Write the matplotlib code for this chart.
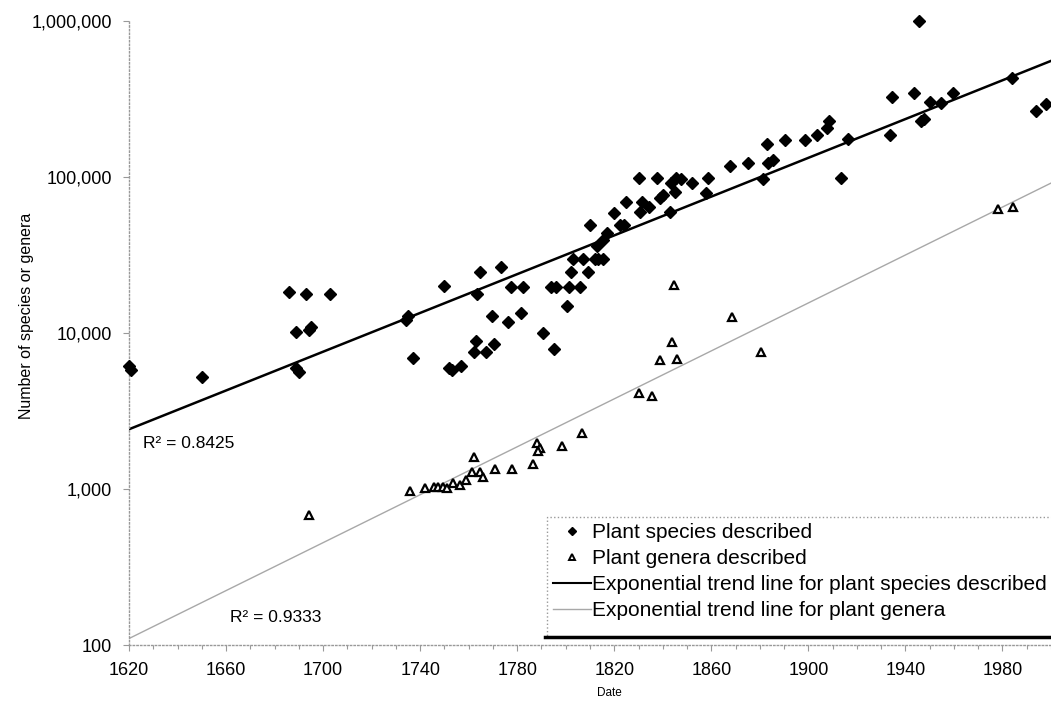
import matplotlib
matplotlib.use('Agg')
import matplotlib.pyplot as plt
from matplotlib.ticker import FixedLocator, MultipleLocator, NullLocator
from matplotlib.lines import Line2D
from matplotlib.patches import Rectangle

plt.rcParams['font.family'] = ['Liberation Sans', 'DejaVu Sans']

# ---- data ----
species_years = [1620, 1621, 1650, 1686, 1693, 1703, 1689, 1694, 1695, 1689, 1690,
                 1734, 1735, 1737, 1750, 1752, 1753, 1757, 1762, 1763, 1767, 1770.5,
                 1763.5, 1764.5, 1769.5, 1773.5, 1776, 1777.5, 1781.5, 1782.5, 1790.5,
                 1795, 1794, 1796, 1801.5, 1806, 1800.5, 1802, 1809, 1803, 1807, 1812,
                 1813.5, 1815.5, 1813, 1815.5, 1817, 1810, 1820, 1822.5, 1824, 1825,
                 1830, 1830.5, 1831.5, 1834.5, 1837.5, 1839, 1840, 1843, 1843.5, 1845.5,
                 1847.5, 1845, 1852, 1858, 1858.5, 1867.5, 1875, 1881.5, 1883, 1883.5,
                 1885.5, 1890.5, 1898.5, 1903.5, 1907.5, 1908.5, 1913.5, 1916.5, 1933.5,
                 1934.5, 1943.5, 1945.5, 1946.5, 1947.5, 1950, 1954.5, 1959.5, 1984,
                 1994, 1998]
species_counts = [6100, 5800, 5200, 18400, 17800, 17800, 10200, 10450, 10900, 5950, 5600,
                  12100, 12850, 6950, 20000, 5950, 5800, 6100, 7500, 8900, 7600, 8450,
                  17900, 24700, 12900, 26600, 11800, 19800, 13400, 19800, 9950,
                  7900, 19800, 19800, 19800, 19800, 14900, 24700, 24700, 29700, 29700, 29700,
                  29700, 29700, 36300, 39400, 43600, 49200, 59000, 49000, 49500, 68900,
                  98200, 59300, 69500, 64600, 98200, 72900, 76700, 59300, 91200, 98200,
                  96600, 80500, 91900, 78700, 98200, 117700, 122500, 96700, 162000, 122500,
                  128500, 172600, 172600, 185900, 207000, 229500, 98200, 174700, 185900,
                  327000, 343600, 1000000, 229500, 237000, 304000, 296500, 343600, 433600,
                  264800, 293600]

genera_years = [1694, 1736, 1742, 1745.5, 1747.5, 1749.5, 1751, 1753.5, 1756.5, 1759,
                1762, 1761.5, 1764.5, 1766, 1771, 1778, 1786.5, 1788, 1789.5, 1788.5,
                1798.5, 1806.5, 1830, 1835.5, 1839, 1846, 1844, 1844.5, 1868.5, 1880.5,
                1978, 1984.5]
genera_counts = [680, 975, 1010, 1025, 1030, 1030, 1010, 1090, 1060, 1140,
                 1610, 1280, 1280, 1190, 1340, 1340, 1450, 1960, 1840, 1740,
                 1900, 2300, 4100, 3960, 6710, 6810, 8800, 20300, 12700, 7500,
                 62400, 64000]

trend_years = [1620, 2000]
species_trend = [2415, 555000]
genera_trend = [110, 91400]

x_ticks = [1620, 1660, 1700, 1740, 1780, 1820, 1860, 1900, 1940, 1980]
y_ticks = [100, 1000, 10000, 100000, 1000000]
y_tick_labels = ['100', '1,000', '10,000', '100,000', '1,000,000']

W, H = 1051, 703
fig = plt.figure(figsize=(W / 100, H / 100), dpi=100)
ax = fig.add_axes([129 / W, 58 / H, 922 / W, 624 / H])
ax.set_yscale('log')
ax.set_xlim(1620, 2000)
ax.set_ylim(100, 1000000)

ax.plot(trend_years, species_trend, color='black', lw=1.8, zorder=2)
ax.plot(trend_years, genera_trend, color='#a8a8a8', lw=1.0, zorder=2)
ax.plot(species_years, species_counts, linestyle='none', marker='D', markersize=6,
        color='black', zorder=3, clip_on=False)
ax.plot(genera_years, genera_counts, linestyle='none', marker='^', markersize=6,
        markerfacecolor='white', markeredgecolor='black', markeredgewidth=1.6,
        zorder=3, clip_on=False)

for s in ['top', 'right']:
    ax.spines[s].set_visible(False)
for s in ['left', 'bottom']:
    ax.spines[s].set_color('#999999')
    ax.spines[s].set_linestyle(':')
    ax.spines[s].set_linewidth(1.0)

ax.xaxis.set_major_locator(FixedLocator(x_ticks))
ax.xaxis.set_minor_locator(MultipleLocator(10))
ax.set_xticklabels([str(v) for v in x_ticks])
ax.yaxis.set_major_locator(FixedLocator(y_ticks))
ax.yaxis.set_minor_locator(NullLocator())
ax.set_yticklabels(y_tick_labels)
ax.tick_params(axis='both', which='major', labelsize=13, length=4, width=0.8,
               color='#999999', direction='out')
ax.tick_params(axis='x', which='minor', length=3, width=0.8, color='#999999')
ax.tick_params(axis='x', which='major', pad=8)
ax.tick_params(axis='y', which='major', pad=8)

ax.text(1625.8, 1970, 'R² = 0.8425', fontsize=12.5, va='center', ha='left')
ax.text(1661.6, 151, 'R² = 0.9333', fontsize=12.5, va='center', ha='left')

fig.text(609 / W, 1 - 693 / H, 'Date', fontsize=8.5, ha='center', va='center')
fig.text(27 / W, 1 - 316 / H, 'Number of species or genera', fontsize=11.5,
         ha='center', va='center', rotation=90)

# legend box drawn by hand (dotted frame, heavy bottom edge)
fig.add_artist(Rectangle((547 / W, 1 - 637 / H), 520 / W, 120 / H,
                         transform=fig.transFigure, facecolor='white',
                         edgecolor='#999999', linestyle=':', linewidth=1.0, zorder=4))
fig.add_artist(Line2D([545 / W, 1.0], [1 - 637 / H, 1 - 637 / H], color='black',
                      lw=2.5, transform=fig.transFigure, zorder=5))

handles = [
    Line2D([], [], linestyle='none', marker='D', markersize=4, color='black'),
    Line2D([], [], linestyle='none', marker='^', markersize=5, markerfacecolor='white',
           markeredgecolor='black', markeredgewidth=1.4),
    Line2D([], [], color='black', lw=1.5),
    Line2D([], [], color='#a8a8a8', lw=1.0),
]
labels = ['Plant species described', 'Plant genera described',
          'Exponential trend line for plant species described',
          'Exponential trend line for plant genera']
leg = fig.legend(handles, labels, loc='upper left',
                 bbox_to_anchor=(547 / W, 1 - 517 / H), fontsize=15,
                 frameon=False, borderpad=0.3, labelspacing=0.33,
                 handlelength=1.8, handletextpad=0.08, borderaxespad=0)
leg.set_zorder(6)

fig.savefig('out.png', dpi=100)
